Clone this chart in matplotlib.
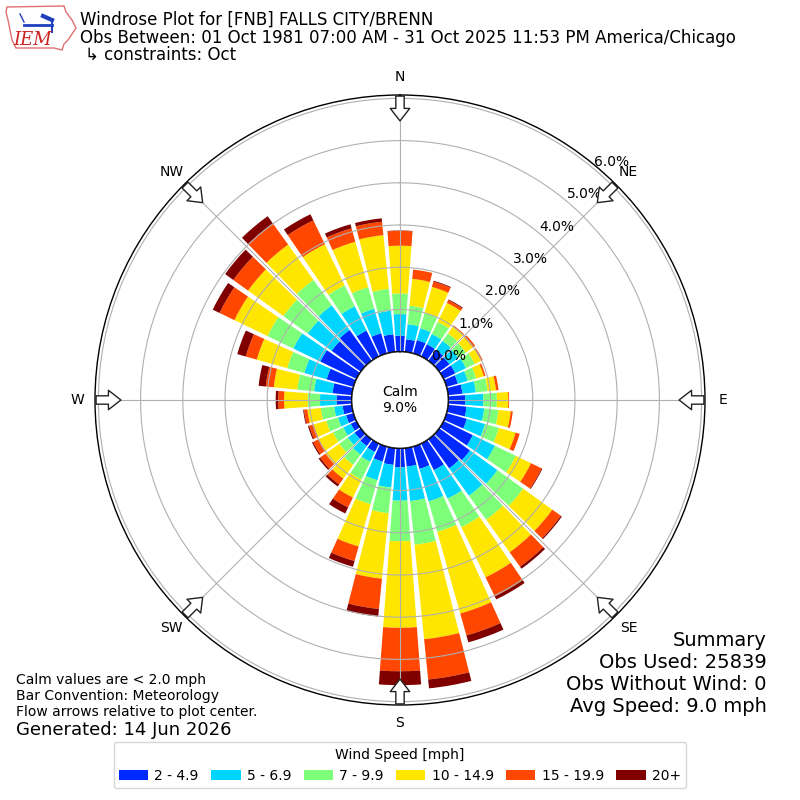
import numpy as np
import matplotlib
matplotlib.use("Agg")
import matplotlib.pyplot as plt
from matplotlib.patches import Circle, Patch, Polygon

# ---- data (percent of observations) ----
directions = np.arange(0, 360, 10)
speed_bins = ["2 - 4.9", "5 - 6.9", "7 - 9.9", "10 - 14.9", "15 - 19.9", "20+"]
s1 = [0.38,0.30,0.33,0.32,0.32,0.30,0.31,0.28,0.34,0.40,0.44,0.50,0.77,0.90,0.85,0.70,0.55,0.44,
      0.45,0.40,0.37,0.22,0.20,0.18,0.15,0.18,0.22,0.36,0.46,0.66,0.95,0.85,0.90,0.68,0.50,0.42]
s2 = [0.51,0.36,0.29,0.27,0.26,0.26,0.28,0.24,0.32,0.43,0.42,0.45,0.58,0.80,0.80,0.75,0.80,0.82,
      0.79,0.54,0.46,0.26,0.25,0.20,0.20,0.20,0.20,0.39,0.44,0.55,0.71,0.70,0.72,0.64,0.60,0.56]
s3 = [0.49,0.44,0.38,0.32,0.22,0.22,0.23,0.21,0.28,0.32,0.34,0.34,0.55,0.75,0.70,0.75,0.75,1.04,
      0.96,0.61,0.59,0.47,0.30,0.25,0.27,0.29,0.32,0.29,0.40,0.42,0.68,0.71,0.74,0.55,0.53,0.52]
s4 = [1.13,0.64,0.64,0.50,0.20,0.20,0.17,0.19,0.20,0.27,0.29,0.41,0.40,0.85,0.95,1.32,2.01,2.25,
      2.05,1.56,1.04,0.47,0.40,0.40,0.37,0.31,0.32,0.56,0.56,0.75,0.87,1.03,1.03,1.08,1.12,1.28]
s5 = [0.35,0.22,0.13,0.07,0.03,0.07,0.04,0.04,0.06,0.02,0.05,0.10,0.28,0.25,0.42,0.50,0.54,0.96,
      1.03,0.72,0.36,0.26,0.17,0.16,0.15,0.11,0.08,0.14,0.19,0.27,0.39,0.43,0.62,0.63,0.33,0.32]
s6 = [0.01,0.00,0.02,0.02,0.00,0.00,0.00,0.00,0.00,0.00,0.00,0.00,0.02,0.03,0.06,0.08,0.17,0.21,
      0.33,0.18,0.14,0.16,0.06,0.04,0.03,0.03,0.02,0.06,0.17,0.21,0.18,0.24,0.21,0.16,0.10,0.08]
series = [s1, s2, s3, s4, s5, s6]
rticks = [0, 1, 2, 3, 4, 5, 6]
compass = ["N", "NE", "E", "SE", "S", "SW", "W", "NW"]
calm_pct = 9.0

fig = plt.figure(figsize=(8, 8), dpi=100)
ax = fig.add_axes([95/800, 95/800, 610/800, 610/800], projection="polar")
ax.set_theta_zero_location("N")
ax.set_theta_direction(-1)

colors = plt.cm.jet(np.linspace(0, 1, 7)[1:])
theta = np.deg2rad(directions)
bottom = np.zeros(len(directions))
for vals, col, lab in zip(series, colors, speed_bins):
    v = np.array(vals)
    ax.bar(theta, v, bottom=bottom, width=np.deg2rad(8.5), color=col,
           edgecolor="none", linewidth=0, label=lab, zorder=1)
    bottom = bottom + v

ax.set_rorigin(-1.145)
ax.set_ylim(0, 6.08)
ax.set_rticks(rticks)
ax.set_yticklabels([f"{t:.1f}%" for t in rticks], fontsize=10)
ax.set_rlabel_position(40)
ax.set_xticks(np.deg2rad(np.arange(0, 360, 45)))
ax.set_xticklabels(compass, fontsize=10)
ax.tick_params(axis="x", pad=2.5)
ax.grid(True, color="#b0b0b0", linewidth=0.8)
for sp in ax.spines.values():
    sp.set_color("black")
    sp.set_linewidth(1.0)

# calm circle
ax.add_patch(Circle((0.5, 0.5), 48.3/610, transform=ax.transAxes,
                    facecolor="white", edgecolor="black", linewidth=1.0, zorder=5))
ax.text(0.5, 0.5, f"Calm\n{calm_pct:.1f}%", transform=ax.transAxes, ha="center",
        va="center", fontsize=10, zorder=6)

# flow arrows
for ang in np.arange(0, 360, 45):
    t = np.deg2rad(ang)
    ax.annotate("", xy=(t, 5.40), xytext=(t, 6.12), xycoords="data",
                arrowprops=dict(arrowstyle="simple,head_length=0.45,head_width=0.7,tail_width=0.3",
                                mutation_scale=20, fc="white", ec="#222222", lw=1.0),
                annotation_clip=False, zorder=7)

# titles
fig.text(80/800, 1 - 20/800, "Windrose Plot for [FNB] FALLS CITY/BRENN", fontsize=12, va="center")
fig.text(80/800, 1 - 38/800,
         "Obs Between: 01 Oct 1981 07:00 AM - 31 Oct 2025 11:53 PM America/Chicago",
         fontsize=12, va="center")
fig.text(85/800, 1 - 55/800, "\u21b3 constraints: Oct", fontsize=12, va="center")

# logo (approximation)
lax = fig.add_axes([2/800, 1 - 52/800, 76/800, 50/800])
lax.set_xlim(0, 76)
lax.set_ylim(50, 0)
lax.axis("off")
iowa = [(5, 5), (62, 4), (64, 10), (70, 18), (74, 26), (70, 32), (66, 38), (62, 42),
        (60, 48), (52, 46), (14, 46), (10, 38), (8, 28), (6, 18), (4, 10)]
lax.add_patch(Polygon(iowa, closed=True, fill=False, ec="#e07070", lw=1.0))
lax.plot([22, 50], [23, 23], color="#1f3fbf", lw=2)
lax.plot([18, 22], [12, 20], color="#1f3fbf", lw=1)
lax.plot([41, 50], [14, 18], color="#1f3fbf", lw=3)
lax.plot([50, 50], [18, 30], color="#1f3fbf", lw=1.5)
lax.text(31, 38, "IEM", color="#cc2222", fontsize=13, family="DejaVu Serif",
         style="italic", ha="center", va="center")

# bottom-left notes
fig.text(16/800, 1 - 680/800, "Calm values are < 2.0 mph", fontsize=10, va="center")
fig.text(16/800, 1 - 696/800, "Bar Convention: Meteorology", fontsize=10, va="center")
fig.text(16/800, 1 - 712/800, "Flow arrows relative to plot center.", fontsize=10, va="center")
fig.text(16/800, 1 - 730/800, "Generated: 14 Jun 2026", fontsize=13, va="center")

# summary
summary = ["Summary", "Obs Used: 25839", "Obs Without Wind: 0", "Avg Speed: 9.0 mph"]
for i, s in enumerate(summary):
    fig.text(767/800, 1 - (640 + 22*i)/800, s, fontsize=14, ha="right", va="center")

handles = [Patch(facecolor=c, edgecolor="none") for c in colors]
fig.legend(handles, speed_bins, loc="lower center", bbox_to_anchor=(0.5, 0.006), ncol=6,
           title="Wind Speed [mph]", fontsize=10, title_fontsize=10, handlelength=2.1,
           handleheight=0.7, handletextpad=0.45, columnspacing=0.9, frameon=True)

fig.savefig("out.png", dpi=100)
